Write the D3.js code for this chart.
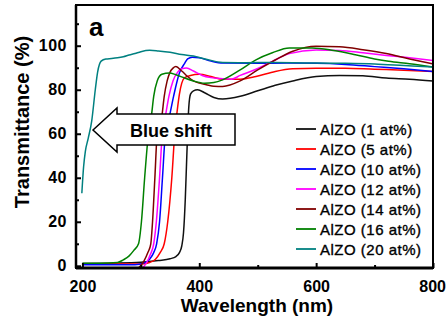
<!DOCTYPE html>
<html><head><meta charset="utf-8">
<script src="https://cdn.jsdelivr.net/npm/d3@7"></script>
<style>
html,body{margin:0;padding:0;background:#fff;}
svg{display:block;font-family:"Liberation Sans",Arial,sans-serif;}
</style></head>
<body>
<svg id="chart" width="446" height="322"></svg>
<script>
// ---------- data ----------
const seriesNames = ["AlZO (1 at%)","AlZO (5 at%)","AlZO (10 at%)","AlZO (12 at%)","AlZO (14 at%)","AlZO (16 at%)","AlZO (20 at%)"];
const seriesColors = ["#111111","#ff0000","#0000ff","#ff00ff","#800000","#008000","#008080"];

const w1 = [200,250,300,330,350,360,366,370,373,376,378,380,382,385,390,397,410,425,440,470,500,530,560,600,640,680,720,760,800];
const t1 = [1.0,1.2,1.6,2.4,3.2,4.2,6,9,15,30,45,60,72,78,79.5,80,78.5,76.5,75.8,77,79.5,82,84,86,86.5,86.3,85.3,84.8,84];

const w5 = [200,250,300,315,325,333,340,346,353,358,362,366,370,375,385,400,420,440,470,497,530,560,600,650,700,750,800];
const t5 = [0.8,0.8,0.8,1.5,3,6,10,20,40,60,70,78,83,85.5,86.5,87,86,84.8,84.8,86,88.3,89.5,89.8,89.8,89.3,88.9,88.3];

const w10 = [200,250,290,305,315,322,327,332,337,342,349,356,366,375,380,388,400,420,440,500,550,600,650,700,750,800];
const t10 = [0.5,0.5,0.5,1.2,3,6,10,20,40,60,68,77,87.6,92,94,94.8,94.5,93,92.1,92,92.1,92,91.5,90.5,89.5,88.3];

const w12 = [303,310,316,322,326.5,332,336.7,342,348,355,363,370,378,390,405,420,440,455,470,497,525,554,600,640,680,720,760,800];
const t12 = [-1,1.5,5,10,20,40,60,68,77,84,88,89.5,89.9,88.5,86.5,85.5,85,84.8,86.5,89.3,92.9,96.4,98,97.8,96.8,95.6,94.5,93.3];

const w14 = [296,305,312,317,320,324,328,336,340,345,350,355,360,370,380,390,400,412,425,440,470,500,530,560,600,640,680,720,760,800];
const t14 = [-1,2,6,10,20,40,60,68,77,84,88,89.8,90.5,88.5,86,84,83,82.3,81.6,81.5,84,89,93.5,97.5,99.8,99.5,98.2,96.5,94,91.7];

const w16 = [200,230,260,270,280,288,296,301,306.5,313,318,322,328,336,349,360,375,390,409,425,440,470,497,525,554,593,630,667,700,724,760,800];
const t16 = [1.2,1.2,1.5,2.7,4.5,7,10,20,40,60,68,77,84,87,87.6,86.8,85.3,84,83,83.3,84.5,89,93.6,96.8,99,99,97.8,95.9,94,92.9,91.8,90.3];

const w20 = [199,202,205,210,216,222,226,232,240,250,260,270,280,290,300,315,330,350,370,390,410,440,480,520,560,600,650,700,750,800];
const t20 = [33,45,52,58,66,80,88,93,94,94.2,94.5,95,95.8,96.5,97.3,97.9,97.6,97,96,95.3,94,92.4,92.3,92.4,92.3,92.1,92,91.7,91,90.3];

const seriesX = [w1,w5,w10,w12,w14,w16,w20];
const seriesY = [t1,t5,t10,t12,t14,t16,t20];

const xMajorTicks = [200,400,600,800];
const xMinorTicks = [300,500,700];
const yMajorTicks = [0,20,40,60,80,100];
const yMinorTicks = [10,30,50,70,90,110];

// ---------- layout ----------
const svg = d3.select("#chart");
const L = 76, R = 433, T = 5, B = 268;
const x = d3.scaleLinear().domain([189, 800]).range([L, R]);
const y = d3.scaleLinear().domain([-1, 118.5]).range([B, T]);

svg.append("defs").append("clipPath").attr("id","clip")
  .append("rect").attr("x",L).attr("y",T).attr("width",R-L).attr("height",B-T);

// curves
const line = d3.line().x(d=>x(d[0])).y(d=>y(d[1])).curve(d3.curveMonotoneX);
const gLines = svg.append("g").attr("clip-path","url(#clip)");
seriesX.forEach((xs,i)=>{
  const pts = xs.map((v,j)=>[v, seriesY[i][j]]);
  gLines.append("path").datum(pts)
    .attr("fill","none").attr("stroke",seriesColors[i])
    .attr("stroke-width",1.5).attr("d",line);
});

// axes (ticks inward)
const xAxis = svg.append("g").attr("transform",`translate(0,${B})`)
  .call(d3.axisBottom(x).tickValues(xMajorTicks).tickSize(-5).tickPadding(13).tickFormat(d3.format("d")));
const xAxisMinor = svg.append("g").attr("transform",`translate(0,${B})`)
  .call(d3.axisBottom(x).tickValues(xMinorTicks).tickSize(-3).tickFormat(""));
const yAxis = svg.append("g").attr("transform",`translate(${L},0)`)
  .call(d3.axisLeft(y).tickValues(yMajorTicks).tickSize(-5).tickPadding(9).tickFormat(d3.format("d")));
const yAxisMinor = svg.append("g").attr("transform",`translate(${L},0)`)
  .call(d3.axisLeft(y).tickValues(yMinorTicks).tickSize(-3).tickFormat(""));
[xAxis,xAxisMinor,yAxis,yAxisMinor].forEach(g=>{
  g.select(".domain").remove();
  g.selectAll(".tick line").attr("stroke","#000").attr("stroke-width",2);
  g.selectAll("text").attr("fill","#000").attr("font-size",16).attr("font-weight","bold")
    .attr("font-family","'Liberation Sans',Arial,sans-serif");
});
yAxis.selectAll("text").attr("letter-spacing",0.5);
// keep last x label inside the picture
xAxis.selectAll(".tick text").filter(d=>d===800).attr("text-anchor","end").attr("dx",12.5);

// frame
svg.append("rect").attr("x",L).attr("y",T).attr("width",R-L).attr("height",B-T)
  .attr("fill","none").attr("stroke","#000").attr("stroke-width",2);
svg.append("line").attr("x1",L).attr("x2",R).attr("y1",B).attr("y2",B).attr("stroke","#000").attr("stroke-width",3);
svg.append("line").attr("x1",L).attr("x2",L).attr("y1",T).attr("y2",B).attr("stroke","#000").attr("stroke-width",2.5);

// axis titles
svg.append("text").attr("x",257).attr("y",312).attr("text-anchor","middle")
  .attr("font-size",19).attr("font-weight","bold").text("Wavelength (nm)");
svg.append("text").attr("transform","translate(29,122) rotate(-90)").attr("text-anchor","middle")
  .attr("font-size",20).attr("font-weight","bold").text("Transmittance (%)");

// panel label
svg.append("text").attr("x",89).attr("y",36).attr("font-size",26).attr("font-weight","bold").text("a");

// blue shift arrow
const arrow = [[93,130],[117,108],[117,114],[235,114],[235,145],[117,145],[117,152]];
svg.append("path").attr("d","M"+arrow.map(p=>p.join(",")).join("L")+"Z")
  .attr("fill","#fff").attr("stroke","#000").attr("stroke-width",1.5);
svg.append("text").attr("x",171).attr("y",137).attr("text-anchor","middle")
  .attr("font-size",18).attr("font-weight","bold").text("Blue shift");

// legend
const leg = svg.append("g");
seriesNames.forEach((n,i)=>{
  const cy = 129 + i*20;
  leg.append("line").attr("x1",296).attr("x2",316).attr("y1",cy).attr("y2",cy)
    .attr("stroke",seriesColors[i]).attr("stroke-width",1.8);
  leg.append("text").attr("x",320).attr("y",cy+5.5).attr("font-size",15)
    .attr("letter-spacing",0.5).attr("stroke","#000").attr("stroke-width",0.35).text(n);
});
</script>
</body></html>
